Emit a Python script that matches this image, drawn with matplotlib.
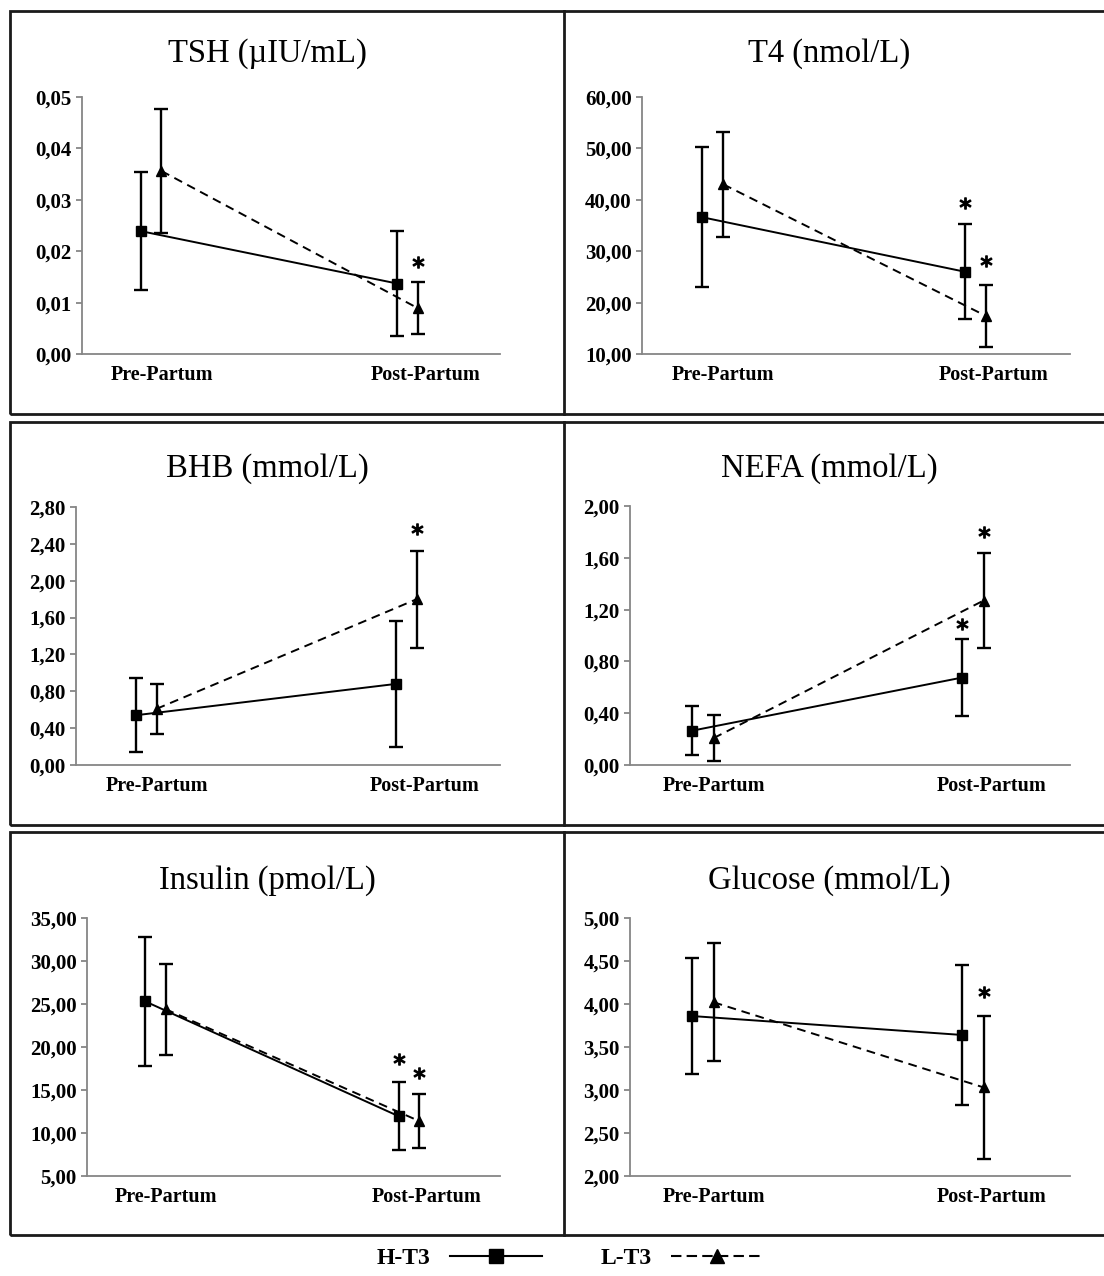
import matplotlib

matplotlib.use("Agg")
import matplotlib.pyplot as plt
from matplotlib.lines import Line2D
from matplotlib.patches import Rectangle
from matplotlib.ticker import FuncFormatter

W, H = 1104, 1276

# ---- data (means and standard deviations) ----
categories = ["Pre-Partum", "Post-Partum"]
series_names = ["H-T3", "L-T3"]

titles = ["TSH (\u00b5IU/mL)", "T4 (nmol/L)", "BHB (mmol/L)",
          "NEFA (mmol/L)", "Insulin (pmol/L)", "Glucose (mmol/L)"]

h_mean = [[0.0239, 0.0137], [36.6, 26.0], [0.54, 0.88],
          [0.265, 0.675], [25.3, 11.95], [3.86, 3.64]]
h_sd = [[0.0115, 0.0102], [13.6, 9.25], [0.40, 0.68],
        [0.19, 0.30], [7.5, 3.97], [0.67, 0.81]]
l_mean = [[0.0356, 0.0089], [43.0, 17.4], [0.61, 1.80],
          [0.208, 1.27], [24.4, 11.4], [4.02, 3.03]]
l_sd = [[0.0120, 0.0051], [10.15, 6.1], [0.27, 0.525],
        [0.18, 0.37], [5.3, 3.15], [0.685, 0.83]]

# significance asterisks: (series, category index, y)
stars = [
    [("L", 1, 0.0179)],
    [("H", 1, 39.3), ("L", 1, 28.1)],
    [("L", 1, 2.56)],
    [("H", 1, 1.09), ("L", 1, 1.80)],
    [("H", 1, 18.55), ("L", 1, 17.0)],
    [("L", 1, 4.14)],
]

y_limits = [(0, 0.05), (10, 60), (0, 2.8), (0, 2.0), (5, 35), (2, 5)]
y_steps = [0.01, 10, 0.4, 0.4, 5, 0.5]

# ---- layout (pixels in the 1104x1276 canvas) ----
axes_px = [(82, 500, 97, 354), (642, 1070, 97, 354),
           (76, 500, 507, 765), (630, 1070, 506, 765),
           (87, 500, 918, 1176), (630, 1070, 918, 1176)]
row_px = [(11, 414), (422, 825), (832, 1235)]
title_x = [267, 829]
title_base = [62, 477, 889]

SERIF = "Liberation Serif"
OFFSET = {"H": -0.04, "L": 0.04}
LABEL_SHIFT = [0.04, 0.07]
GREY = "#868686"

fig = plt.figure(figsize=(W / 100, H / 100), dpi=100)


def fx(px):
    return px / W


def fy(py):
    return 1 - py / H


# panel frames
for top, bot in row_px:
    fig.add_artist(Rectangle((fx(10), fy(bot)), fx(1120 - 10), (bot - top) / H,
                             transform=fig.transFigure, fill=False,
                             edgecolor="#1a1a1a", linewidth=2))
    fig.add_artist(Line2D([fx(564), fx(564)], [fy(top), fy(bot)],
                          transform=fig.transFigure, color="#1a1a1a", linewidth=2))

comma_fmt = FuncFormatter(lambda v, _: f"{v:.2f}".replace(".", ","))
cat_x = [0, 1]

for i in range(6):
    left, right, top, bot = axes_px[i]
    ax = fig.add_axes([fx(left), fy(bot), (right - left) / W, (bot - top) / H])
    ax.set_facecolor("none")

    hx = [c + OFFSET["H"] for c in cat_x]
    lx = [c + OFFSET["L"] for c in cat_x]

    ax.plot(hx, h_mean[i], color="black", linewidth=1.4, zorder=3)
    ax.plot(lx, l_mean[i], color="black", linewidth=1.4, dashes=(4.5, 3), zorder=3)
    ax.errorbar(hx, h_mean[i], yerr=h_sd[i], fmt="s", color="black", ms=7.5,
                elinewidth=1.7, capsize=4.7, capthick=1.7, zorder=4)
    ax.errorbar(lx, l_mean[i], yerr=l_sd[i], fmt="^", color="black", ms=6.5,
                elinewidth=1.7, capsize=4.7, capthick=1.7, zorder=4)

    for s, c, y in stars[i]:
        ax.plot(cat_x[c] + OFFSET[s], y, marker="$*$", ms=8, color="black",
                linestyle="none")

    lo, hi = y_limits[i]
    n = int(round((hi - lo) / y_steps[i]))
    ax.set_ylim(lo, hi)
    ax.set_yticks([lo + k * y_steps[i] for k in range(n + 1)])
    ax.yaxis.set_major_formatter(comma_fmt)
    ax.set_xlim(-0.27, 1.36)
    ax.set_xticks([c + d for c, d in zip(cat_x, LABEL_SHIFT)])
    ax.set_xticklabels(categories)

    for side in ("top", "right"):
        ax.spines[side].set_visible(False)
    for side in ("left", "bottom"):
        ax.spines[side].set_color(GREY)
        ax.spines[side].set_linewidth(1.3)
    ax.tick_params(axis="y", direction="out", length=4.5, width=1.3, color=GREY,
                   pad=3, labelsize=15)
    ax.tick_params(axis="x", length=0, pad=8, labelsize=14.5)
    for lab in ax.get_xticklabels() + ax.get_yticklabels():
        lab.set_fontfamily(SERIF)
        lab.set_fontweight("bold")

    fig.text(fx(title_x[i % 2]), fy(title_base[i // 2]), titles[i],
             ha="center", va="baseline", fontsize=23.5, family=SERIF)

# legend at the bottom
handles = [
    Line2D([], [], color="black", linewidth=1.5, marker="s", ms=10),
    Line2D([], [], color="black", linewidth=1.5, dashes=(5, 2.5), marker="^", ms=10),
]
fig.legend(handles, series_names, ncol=2, markerfirst=False, frameon=False,
           loc="center", bbox_to_anchor=(fx(570), fy(1258)),
           handlelength=3.9, handletextpad=0.8, columnspacing=2.5,
           borderpad=0.2, prop={"family": SERIF, "weight": "bold", "size": 17})

fig.savefig("out.png", dpi=100)
